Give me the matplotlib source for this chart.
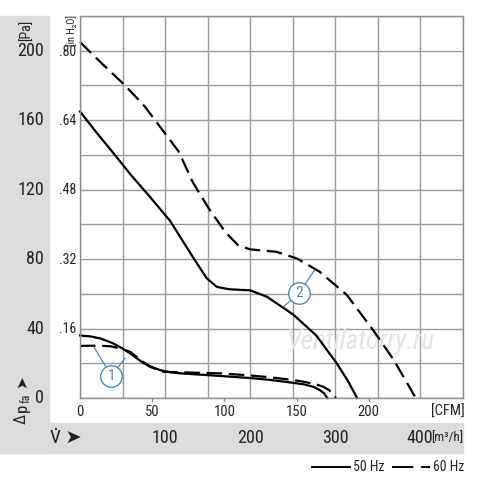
import numpy as np
import matplotlib
matplotlib.use("Agg")
import matplotlib.pyplot as plt
from matplotlib.patches import Rectangle

plt.rcParams['font.family'] = ['Roboto Condensed', 'DejaVu Sans']

# flow in m3/h, pressure in Pa
fan2_50_x = [0, 20, 41, 60, 82, 106, 133, 149, 161, 176, 200, 220, 251, 278, 302, 315, 326]
fan2_50_y = [165, 152.5, 140, 128.4, 116, 102, 81, 69, 64, 62.6, 62, 58.3, 48, 36, 20, 10, 0]

fan2_60_x = [0, 25, 53, 76, 96, 116, 133, 153, 172, 186, 200, 231, 255, 282, 314, 345, 369, 395]
fan2_60_y = [205, 193, 180, 168, 155, 142, 124, 108, 95, 88, 85.6, 84.2, 80.4, 72.7, 59.3, 39, 22, 0]

fan1_50_x = [0, 12, 24, 39, 50, 59, 67, 75, 85, 94, 106, 118, 140, 165, 200, 224, 250, 263, 275, 282, 287, 291]
fan1_50_y = [36, 35.5, 34.3, 31.5, 28.5, 25.7, 22.8, 20, 17.8, 16.1, 14.8, 14.2, 13.5, 12.7, 11.5, 10.4, 8.8, 7.9, 6.4, 4.6, 2.8, 0]

fan1_60_x = [0, 12, 24, 36, 47, 59, 69, 82, 98, 118, 140, 165, 200, 224, 250, 263, 278, 286, 293, 298, 301]
fan1_60_y = [30, 30.1, 30.1, 29.8, 28.6, 26.6, 22.8, 18, 15.1, 14.8, 14.5, 14.2, 13, 11.9, 10.4, 9.4, 7.8, 6.5, 4.5, 2.5, 0]

pa_ticks = [0, 40, 80, 120, 160, 200]
inh2o_ticks = [0.16, 0.32, 0.48, 0.64, 0.80]
inh2o_labels = [".16", ".32", ".48", ".64", ".80"]
cfm_ticks = [0, 50, 100, 150, 200]
m3h_ticks = [100, 200, 300, 400]

PA_PER_INH2O = 249.09
M3H_PER_CFM = 1.699
txtc = "#222222"

fig = plt.figure(figsize=(5, 4.84), dpi=100)

# gray bands
gray = "#dcdcdc"
fig.patches.append(Rectangle((0, 31 / 484), 49 / 500, (453 - 16) / 484,
                             transform=fig.transFigure, color=gray, zorder=-1))
fig.patches.append(Rectangle((0, 31 / 484), 462.5 / 500, 30 / 484,
                             transform=fig.transFigure, color=gray, zorder=-1))

ax = fig.add_axes([80 / 500, 86 / 484, 382.5 / 500, 382 / 484])
ax.set_xlim(0, 450)
ax.set_ylim(0, 220)
ax.set_xticks(np.arange(0, 451, 50))
ax.set_yticks(np.arange(0, 221, 20))
ax.grid(True, color="#9a9a9a", lw=1.0)
ax.tick_params(length=0, labelbottom=False, labelleft=False)
for s in ax.spines.values():
    s.set_color("#8c8c8c")
    s.set_linewidth(1.0)
ax.set_axisbelow(True)

dash = (0, (7, 3))
ax.plot(fan2_50_x, fan2_50_y, color="black", lw=1.6, clip_on=False)
ax.plot(fan2_60_x, fan2_60_y, color="black", lw=1.6, ls=dash, clip_on=False)
ax.plot(fan1_50_x, fan1_50_y, color="black", lw=1.6, clip_on=False)
ax.plot(fan1_60_x, fan1_60_y, color="black", lw=1.6, ls=dash, clip_on=False)

# curve markers
blue = "#4a88b5"
for cx, cy, label, p1, p2 in [
    (37, 12.6, "1", (16, 29.7), (53, 23)),
    (258, 60.5, "2", (240, 52.8), (276, 73.8)),
]:
    ax.plot([cx, p1[0]], [cy, p1[1]], color=blue, lw=0.9, zorder=4)
    ax.plot([cx, p2[0]], [cy, p2[1]], color=blue, lw=0.9, zorder=4)
    ax.scatter([cx], [cy], s=240, facecolor="white", edgecolor=blue,
               lw=1.0, zorder=5)
    ax.text(cx, cy, label, color=blue, fontsize=11, ha="center",
            va="center", zorder=6)

# watermark
ax.text(330, 32, "Ventilatorry.ru", fontsize=19.5, style="italic",
        color="#e4e4e4", ha="center", va="center", zorder=1)

# Pa labels
for v in pa_ticks:
    ax.text(-42.4, v, str(v), fontsize=13, ha="right", va="center",
            color=txtc)
ax.text(-62, 218, "[Pa]", fontsize=10, rotation=90, ha="center",
        va="top", color=txtc)

# in H2O labels
for v, lab in zip(inh2o_ticks, inh2o_labels):
    ax.text(-4.5, v * PA_PER_INH2O, lab, fontsize=10, ha="right",
            va="center", color=txtc)
ax.text(-9.5, 220.5, "[in H₂O]", fontsize=7.5, rotation=90, ha="center",
        va="top", color=txtc)

# CFM labels
for v in cfm_ticks:
    ax.text(v * M3H_PER_CFM, -3.8, str(v), fontsize=10.5, ha="center",
            va="top", color=txtc)
    if v > 0:
        ax.plot([v * M3H_PER_CFM] * 2, [0, -2], color="#8c8c8c", lw=1,
                clip_on=False)
ax.text(453, -3.8, "[CFM]", fontsize=10.5, ha="right", va="top",
        color=txtc)

# m3/h labels
for v in m3h_ticks:
    ax.text(v, -23, str(v), fontsize=13, ha="center", va="center",
            color=txtc)
ax.text(413, -23, "[m³/h]", fontsize=9.5, ha="left", va="center",
        color=txtc)

# axis symbols: delta p_fa with arrow, rotated
def ypx(p):
    return 1 - p / 484

fig.text(21 / 500, ypx(419), "Δ", fontsize=12, rotation=90, ha="center",
         va="center", color=txtc)
fig.text(22 / 500, ypx(408), "p", fontsize=12, rotation=90, ha="center",
         va="center", color=txtc)
fig.text(26.5 / 500, ypx(398), "fa", fontsize=8.5, rotation=90, ha="center",
         va="center", color=txtc)
fig.text(22 / 500, ypx(382), "➤", fontsize=11, rotation=90, ha="center",
         va="center", color=txtc, family="DejaVu Sans")
fig.text(50 / 500, ypx(438), "V\u0307 ➤", fontsize=14, ha="left",
         va="center", color=txtc)

# legend
ly = ypx(467)
fig.add_artist(plt.Line2D([312 / 500, 350 / 500], [ly, ly], color="black",
                          lw=1.4, transform=fig.transFigure))
fig.text(353 / 500, ly, "50 Hz", fontsize=10, ha="left", va="center",
         color=txtc)
fig.add_artist(plt.Line2D([392 / 500, 430 / 500], [ly, ly], color="black",
                          lw=1.4, ls=(0, (11, 4)), transform=fig.transFigure))
fig.text(433 / 500, ly, "60 Hz", fontsize=10, ha="left", va="center",
         color=txtc)

fig.savefig("out.png", dpi=100)
